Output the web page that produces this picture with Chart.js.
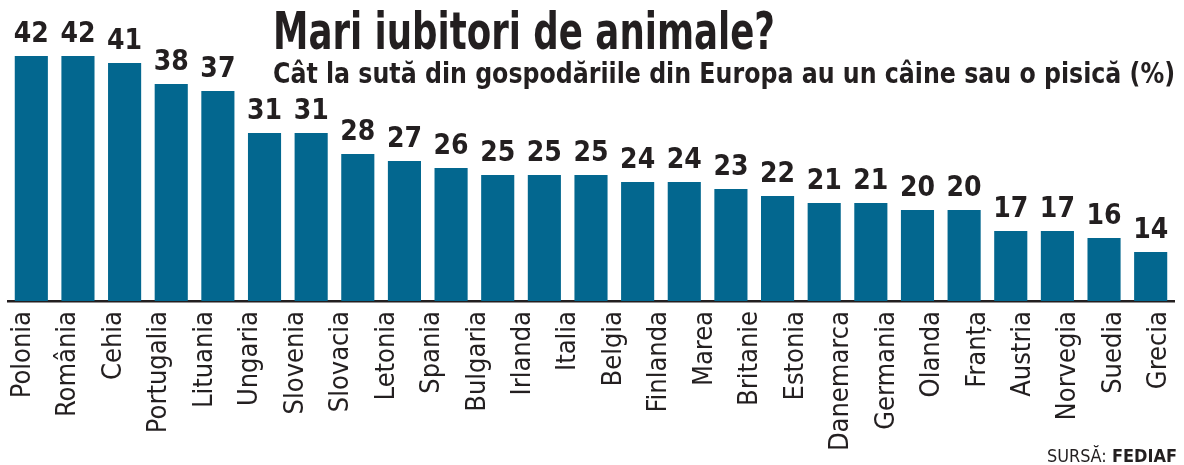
<!DOCTYPE html>
<html lang="ro">
<head>
<meta charset="utf-8">
<script src="https://cdn.jsdelivr.net/npm/chart.js@4/dist/chart.umd.min.js"></script>
<style>
  body { margin: 0; background: #fff; }
  #wrap { position: relative; width: 1184px; height: 465px; }
  canvas { position: absolute; left: 0; top: 0; }
  .txt { position: absolute; white-space: nowrap; color: #231f20; line-height: 1; transform-origin: 0 0;
         font-family: 'Liberation Sans Narrow', 'DejaVu Sans Condensed', 'Liberation Sans', sans-serif; }
  #title { left: 273px; top: 6px; font-size: 51px; font-weight: bold; }
  #sub { left: 273px; top: 60px; font-size: 28px; font-weight: bold; }
  #src { left: 1047px; top: 447px; font-size: 18px; }
</style>
</head>
<body>
<div id="wrap">
  <canvas id="chart" width="1184" height="465"></canvas>
  <div class="txt" id="title" data-w="502">Mari iubitori de animale?</div>
  <div class="txt" id="sub" data-w="902">Cât la sută din gospodăriile din Europa au un câine sau o pisică (%)</div>
  <div class="txt" id="src" data-w="130">SURSĂ: <b>FEDIAF</b></div>
</div>
<script>
// Date
const countries = ['Polonia', 'România', 'Cehia', 'Portugalia', 'Lituania', 'Ungaria', 'Slovenia', 'Slovacia',
  'Letonia', 'Spania', 'Bulgaria', 'Irlanda', 'Italia', 'Belgia', 'Finlanda', 'Marea Britanie', 'Estonia',
  'Danemarca', 'Germania', 'Olanda', 'Franța', 'Austria', 'Norvegia', 'Suedia', 'Grecia'];
const shares = [42, 42, 41, 38, 37, 31, 31, 28, 27, 26, 25, 25, 25, 24, 24, 23, 22, 21, 21, 20, 20, 17, 17, 16, 14];
// in original, "Marea Britanie" is split in two labels under the axis
const axisLabels = countries.flatMap(c => c.split(' '));

const narrow = "'Liberation Sans Narrow', 'DejaVu Sans Condensed', 'Liberation Sans', sans-serif";
const ink = '#231f20';

// titlu: ajustare latime
document.querySelectorAll('.txt').forEach(el => {
  const w = el.getBoundingClientRect().width;
  el.style.transform = 'scaleX(' + (el.dataset.w / w) + ')';
});

// valori deasupra barelor
const valueLabels = {
  id: 'valueLabels',
  afterDatasetsDraw(chart) {
    const ctx = chart.ctx;
    ctx.save();
    ctx.font = 'bold 28px ' + narrow;
    ctx.fillStyle = ink;
    ctx.textAlign = 'center';
    ctx.textBaseline = 'alphabetic';
    chart.getDatasetMeta(0).data.forEach((bar, i) => {
      ctx.fillText(shares[i], bar.x, bar.y - 14);
    });
    ctx.restore();
  }
};

new Chart(document.getElementById('chart'), {
  type: 'bar',
  data: {
    labels: countries,
    datasets: [{
      data: shares,
      backgroundColor: '#03678f',
      barPercentage: 0.71,
      categoryPercentage: 1
    }]
  },
  options: {
    responsive: false,
    animation: false,
    layout: { padding: { top: 14, left: 8, right: 10, bottom: 0 } },
    plugins: { legend: { display: false }, tooltip: { enabled: false } },
    scales: {
      x: { display: false },
      y: { display: false, min: 7, max: 48 },
      names: {
        type: 'linear',
        axis: 'x',
        position: 'bottom',
        min: 0.163,
        max: 24.83,
        grid: { display: false, drawTicks: false },
        border: { display: true, color: ink, width: 2.5 },
        afterBuildTicks: s => { s.ticks = axisLabels.map((_, i) => ({ value: i })); },
        afterFit: s => { s.height = 164; s.paddingLeft = 0; s.paddingRight = 0; },
        ticks: {
          autoSkip: false,
          minRotation: 90,
          maxRotation: 90,
          padding: 10,
          color: ink,
          font: { family: narrow, size: 27 },
          callback: v => axisLabels[v]
        }
      }
    }
  },
  plugins: [valueLabels]
});
</script>
</body>
</html>
